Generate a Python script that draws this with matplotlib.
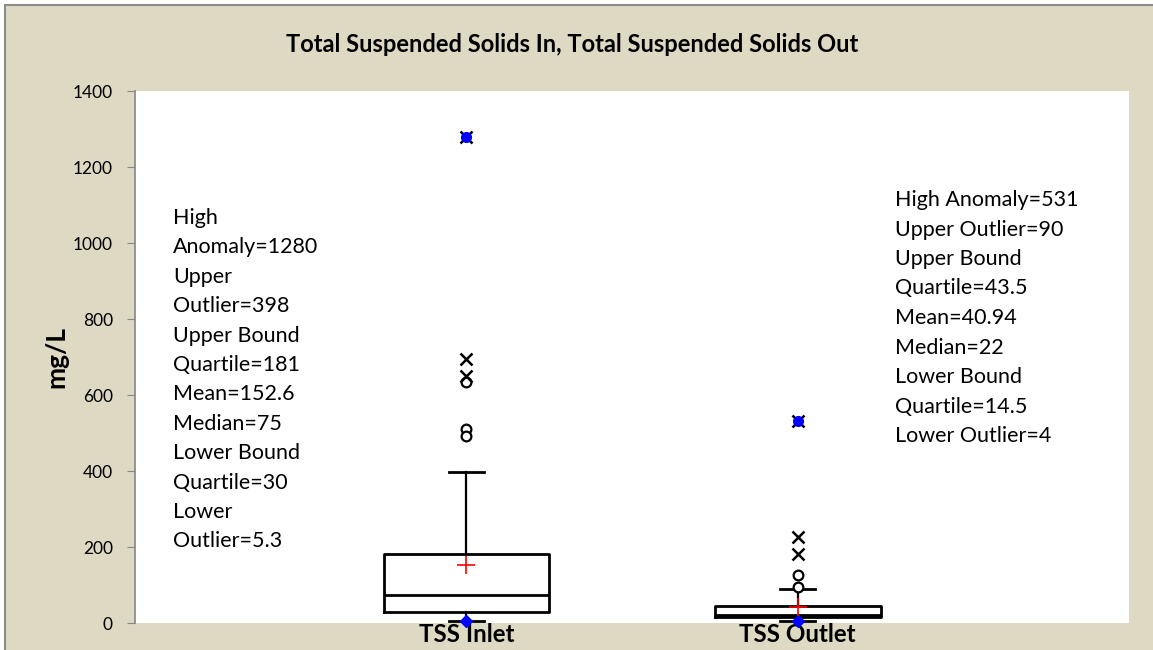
import matplotlib.pyplot as plt
from matplotlib.patches import Rectangle

# box statistics per sample (mg/L)
labels = ["TSS Inlet", "TSS Outlet"]
q1 = [30, 14.5]
medians = [75, 22]
q3 = [181, 43.5]
whisker_low = [5.3, 4]
whisker_high = [398, 90]
means = [152.6, 40.94]
minimums = [5.3, 4]
maximums = [1280, 531]
mild_outliers = [[634, 510, 492], [126, 95]]
extreme_outliers = [[694, 650, 1280], [226, 181, 531]]

inlet_notes = ["High", "Anomaly=1280", "Upper", "Outlier=398", "Upper Bound",
               "Quartile=181", "Mean=152.6", "Median=75", "Lower Bound",
               "Quartile=30", "Lower", "Outlier=5.3"]
outlet_notes = ["High Anomaly=531", "Upper Outlier=90", "Upper Bound",
                "Quartile=43.5", "Mean=40.94", "Median=22", "Lower Bound",
                "Quartile=14.5", "Lower Outlier=4"]

plt.rcParams['font.family'] = ['Lato', 'DejaVu Sans']

W, H = 1153, 650
fig = plt.figure(figsize=(W / 100, H / 100), dpi=100, facecolor="white")
fig.patches.append(Rectangle((5 / W, -0.1), 1.2, 1 - 5 / H + 0.1,
                             transform=fig.transFigure, facecolor="#DDD9C3",
                             edgecolor="#8C8C8C", linewidth=1.5, zorder=-10))

ax = fig.add_axes([135 / W, (H - 623) / H, (1129 - 135) / W, (623 - 91) / H])
ax.set_facecolor("white")

positions = [1, 2]
stats = []
for i, lab in enumerate(labels):
    stats.append(dict(label=lab, q1=q1[i], med=medians[i], q3=q3[i],
                      whislo=whisker_low[i], whishi=whisker_high[i], fliers=[]))

ax.bxp(stats, positions=positions, widths=0.5, capwidths=0.106,
       showfliers=False,
       boxprops=dict(color="black", linewidth=2),
       medianprops=dict(color="black", linewidth=2),
       whiskerprops=dict(color="black", linewidth=1.6),
       capprops=dict(color="black", linewidth=2))

for i, x in enumerate(positions):
    ax.plot([x] * len(mild_outliers[i]), mild_outliers[i], "o", ms=7,
            mfc="white", mec="black", mew=1.6, zorder=4)
    ax.plot([x] * len(extreme_outliers[i]), extreme_outliers[i], "x", ms=8,
            color="black", mew=1.8, zorder=4)
    ax.plot(x, maximums[i], "o", ms=7, color="blue", zorder=5)
    ax.plot(x, minimums[i], "D", ms=6, color="blue", zorder=5, clip_on=False)
    ax.plot(x, means[i], "+", ms=13, color="red", mew=1.2, zorder=5)

ax.set_xlim(0, 3)
ax.set_ylim(0, 1400)
ax.set_yticks(range(0, 1401, 200))
ax.set_xticks(positions)
ax.set_xticklabels(labels, fontsize=17.4, fontweight="bold")
ax.tick_params(axis="x", length=0, pad=0)
ax.tick_params(axis="y", direction="out", length=6, color="#868686",
               labelsize=12.5, pad=10)
for side in ["top", "right", "bottom"]:
    ax.spines[side].set_visible(False)
ax.spines["left"].set_color("#868686")
ax.spines["left"].set_linewidth(1.2)

ax.set_ylabel("mg/L", fontsize=19, fontweight="bold", labelpad=3)

fig.text(572 / W, 1 - 44 / H, "Total Suspended Solids In, Total Suspended Solids Out",
         ha="center", va="center", fontsize=17, fontweight="bold")

# statistic notes beside each box
for i, line in enumerate(inlet_notes):
    fig.text(173 / W, 1 - (218 + i * 29.4) / H, line, ha="left", va="center",
             fontsize=15.5)
for i, line in enumerate(outlet_notes):
    fig.text(895 / W, 1 - (200 + i * 29.5) / H, line, ha="left", va="center",
             fontsize=15.5)

fig.savefig("out.png", dpi=100, facecolor=fig.get_facecolor())
